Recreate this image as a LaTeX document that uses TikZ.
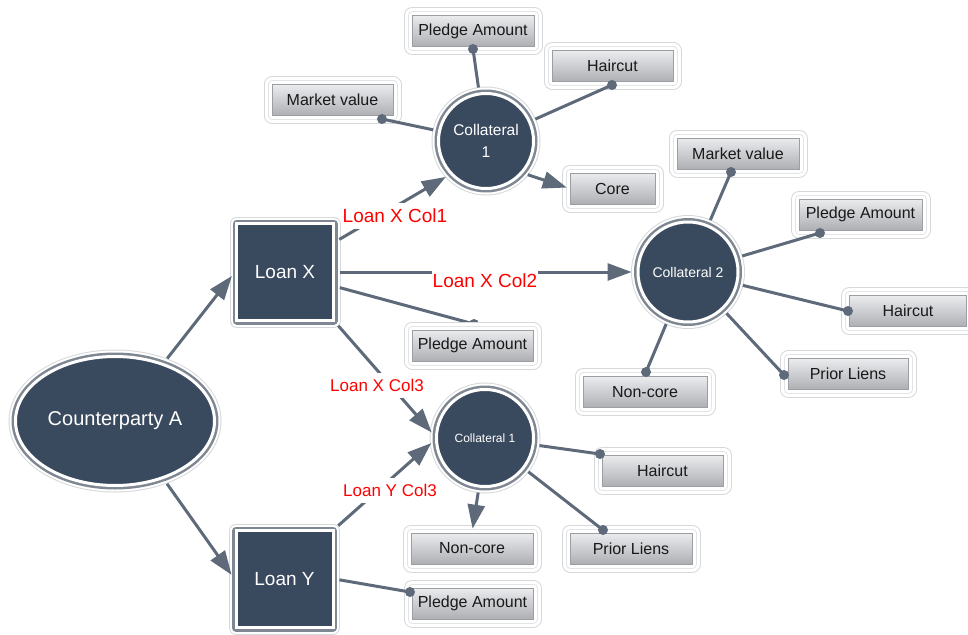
\documentclass[tikz,border=0pt]{standalone}
\usepackage{fontspec}
\setmainfont{Liberation Sans}
\usetikzlibrary{shapes.geometric,arrows.meta}
\definecolor{darkfill}{HTML}{3A4A5E}
\definecolor{connc}{HTML}{5E6A7A}
\definecolor{ringc}{HTML}{7F8792}
\definecolor{haloc}{HTML}{D6D8DB}
\definecolor{boxtop}{HTML}{EBECEE}
\definecolor{boxbot}{HTML}{ADAFB3}
\definecolor{boxline}{HTML}{9B9EA3}
\definecolor{lblred}{HTML}{FF0000}
\newcommand\fsz[2]{\fontsize{#1}{#2}\selectfont}
\tikzset{
 darkbase/.style={fill=darkfill, draw=white, line width=3pt, text=white, inner sep=0pt, align=center,
   preaction={draw=haloc, line width=14pt, line join=round},
   preaction={draw=white, line width=12pt, line join=round},
   preaction={draw=ringc, line width=8pt, line join=round}},
 darkcirc/.style={darkbase, circle, minimum size=#1},
 darksq/.style={darkbase, rectangle, minimum size=97pt, font=\fsz{19}{22}},
 darkell/.style={darkbase, ellipse, minimum width=199pt, minimum height=129pt, font=\fsz{20}{24}},
 gbox/.style={rectangle, minimum width=#1, minimum height=31pt, inner sep=0pt,
   top color=boxtop, bottom color=boxbot, draw=boxline, line width=0.8pt, text=black!90, font=\fsz{16}{19},
   preaction={draw=haloc, line width=17pt, line join=round},
   preaction={draw=white, line width=15pt, line join=round},
   preaction={draw=haloc!70, line width=9pt, line join=round},
   preaction={draw=white, line width=7pt, line join=round}},
 conn/.style={draw=connc, line width=3pt},
 arr/.style={conn, -{Triangle[length=24pt,width=17pt]}},
 dotc/.style={fill=connc},
 lbl/.style={text=lblred, fill=white, inner xsep=1pt, inner ysep=6pt},
}
\begin{document}
\begin{tikzpicture}[x=1pt,y=-1pt]
\useasboundingbox (0,0) rectangle (968,634);
% main dark nodes
\node[darkell] (cp) at (115,421) {Counterparty A};
\node[darksq] (lx) at (285,272) {Loan X};
\node[darksq] (ly) at (284.5,579) {Loan Y};
\node[darkcirc=95pt, font=\fsz{15.5}{22}] (c1) at (486,141) {Collateral\\1};
\node[darkcirc=100pt, font=\fsz{14}{17}] (c2) at (688,272) {Collateral 2};
\node[darkcirc=97pt, font=\fsz{12}{15}] (c3) at (485,438) {Collateral 1};
% connector hidden under the middle pledge box
\coordinate (dpa3) at (474,324);
\draw[conn, shorten <=5pt] (lx.-16) -- (dpa3);
\fill[dotc] (dpa3) circle (5);
% grey boxes
\node[gbox=122pt] (pa1) at (473,31) {Pledge Amount};
\node[gbox=121pt] (hc1) at (612.5,66) {Haircut};
\node[gbox=121pt] (mv1) at (332.5,100) {Market value};
\node[gbox=85pt] (core) at (612.5,188.5) {Core};
\node[gbox=122pt] (mv2) at (738,153.5) {Market value};
\node[gbox=123pt] (pa2) at (860.5,214.5) {Pledge Amount};
\node[gbox=117pt] (hc2) at (908,311) {Haircut};
\node[gbox=120pt] (pl2) at (848,374) {Prior Liens};
\node[gbox=124pt] (nc2) at (645,392) {Non-core};
\node[gbox=121pt] (pa3) at (472.5,345.5) {Pledge Amount};
\node[gbox=121pt] (hc3) at (662.5,470.5) {Haircut};
\node[gbox=122pt] (pl3) at (631,548.5) {Prior Liens};
\node[gbox=122pt] (nc3) at (472,548.5) {Non-core};
\node[gbox=121pt] (pa4) at (472.5,603.5) {Pledge Amount};
% dot coordinates
\coordinate (dmv1) at (382,119);
\coordinate (dpa1) at (473,49);
\coordinate (dhc1) at (612,85);
\coordinate (dmv2) at (731,172);
\coordinate (dpa2) at (820,233);
\coordinate (dhc2) at (848,311);
\coordinate (dpl2) at (784,375);
\coordinate (dnc2) at (646,372);
\coordinate (dhc3) at (600,454);
\coordinate (dpl3) at (603,530);
\coordinate (dpa4) at (410,592);
% attribute connectors with dots
\foreach \c/\d in {c1/dmv1,c1/dpa1,c1/dhc1,c2/dmv2,c2/dpa2,c2/dhc2,c2/dpl2,c2/dnc2,c3/dhc3,c3/dpl3}{
  \draw[conn, shorten <=5pt] (\c) -- (\d);
  \fill[dotc] (\d) circle (5);
}
\draw[conn, shorten <=5pt] (ly.east) -- (dpa4);
\fill[dotc] (dpa4) circle (5);
% arrows
\draw[arr, shorten <=6pt, shorten >=5pt] (cp.50) -- (lx.west);
\draw[arr, shorten <=6pt, shorten >=5pt] (cp.-50) -- (ly.west);
\draw[arr, shorten <=5pt, shorten >=5pt] (lx.31) -- (c1.223);
\draw[arr, shorten <=5pt, shorten >=5pt] (lx.east) -- (c2.west);
\draw[arr, shorten <=5pt, shorten >=5pt] (lx.south east) -- (c3.178);
\draw[arr, shorten <=5pt, shorten >=5pt] (ly.north east) -- (c3.182);
\draw[arr, shorten <=5pt, shorten >=3pt] (c1.-41) -- (core.west);
\draw[arr, shorten <=5pt, shorten >=4pt] (c3.263) -- (nc3.north);
% labels
\node[lbl, font=\fsz{19}{22}] (l1) at (395,216) {Loan X Col1};
\node[lbl, font=\fsz{19}{22}] (l2) at (485,281) {Loan X Col2};
\node[lbl, font=\fsz{17}{20}] (l3) at (377,385.5) {Loan X Col3};
\node[lbl, font=\fsz{17}{20}] (l4) at (390,490.5) {Loan Y Col3};
\end{tikzpicture}
\end{document}
